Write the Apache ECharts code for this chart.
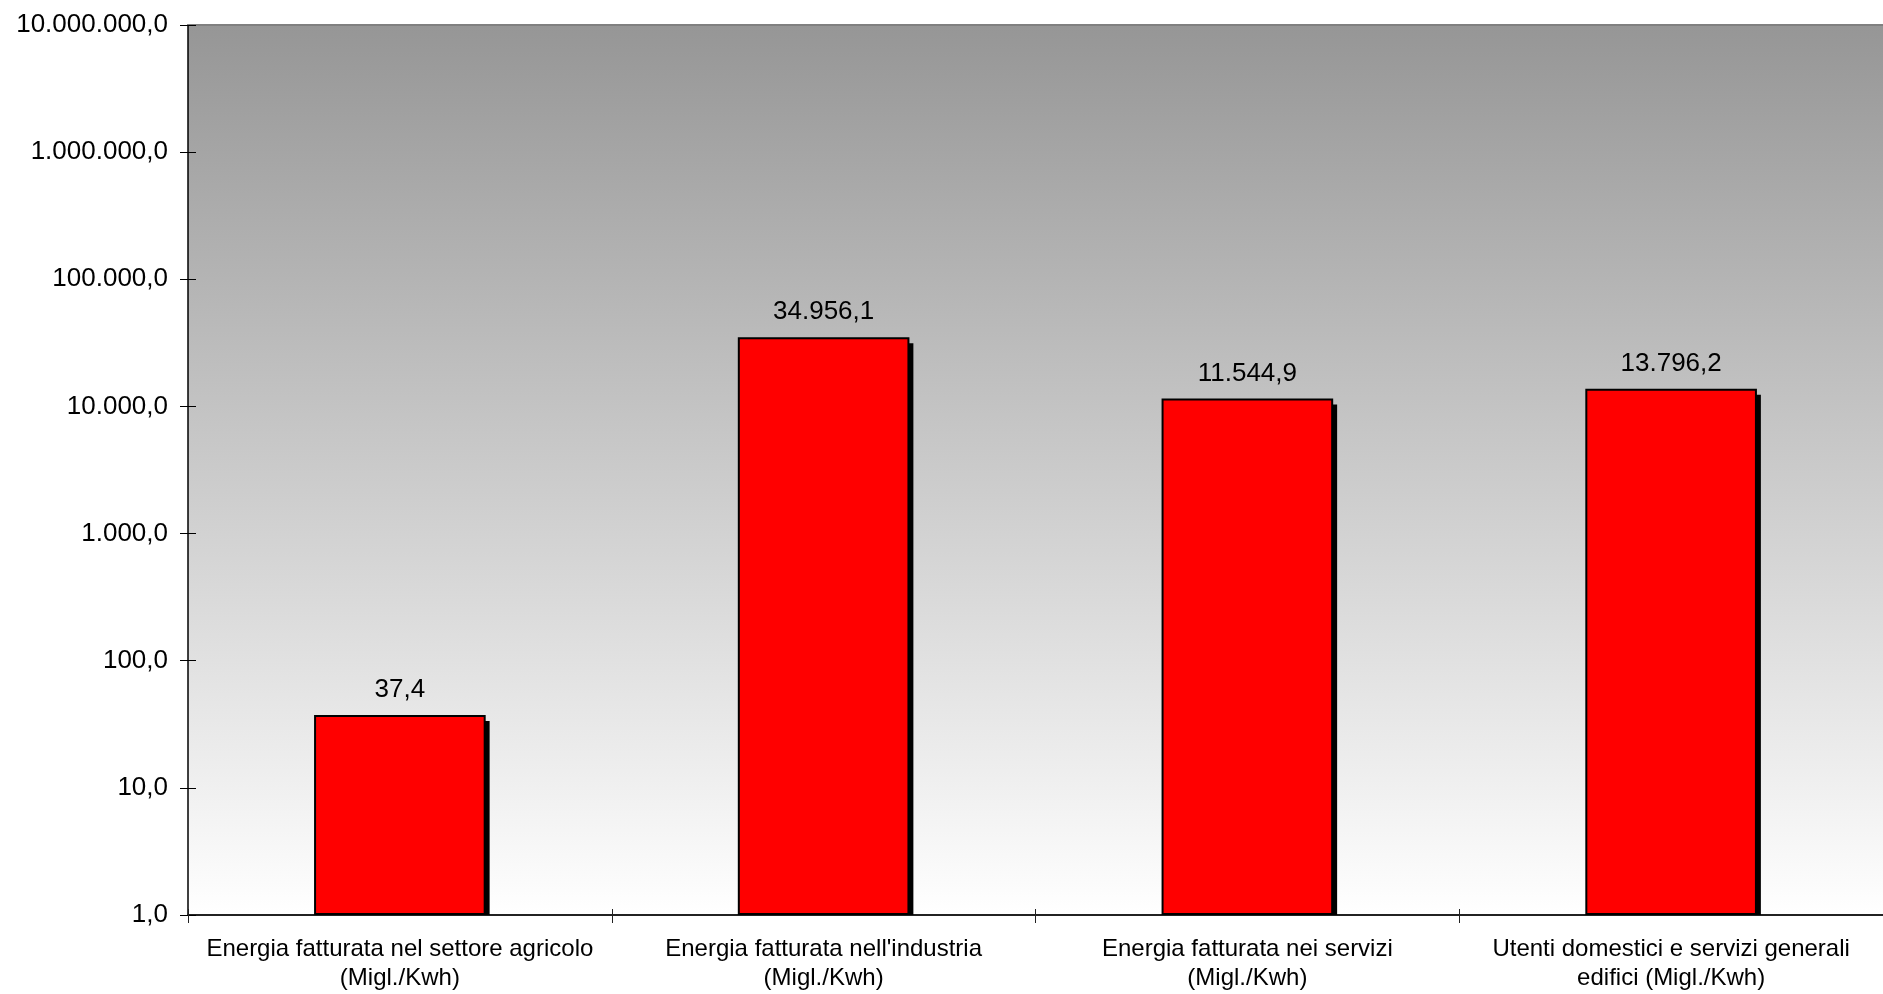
<!DOCTYPE html>
<html>
<head>
<meta charset="utf-8">
<script src="https://cdn.jsdelivr.net/npm/echarts@6/dist/echarts.min.js"></script>
<style>
html,body{margin:0;padding:0;background:#fff;}
#main{width:1883px;height:994px;}
</style>
</head>
<body>
<div id="main"></div>
<script>
const categories = [
  'Energia fatturata nel settore agricolo\n(Migl./Kwh)',
  "Energia fatturata nell'industria\n(Migl./Kwh)",
  'Energia fatturata nei servizi\n(Migl./Kwh)',
  'Utenti domestici e servizi generali\nedifici (Migl./Kwh)'
];
const values = [37.4, 34956.1, 11544.9, 13796.2];
const yMin = 1;
const yMax = 10000000;

function fmtIt(v) {
  const s = Number(v).toFixed(1);
  const parts = s.split('.');
  const intPart = parts[0].replace(/\B(?=(\d{3})+(?!\d))/g, '.');
  return intPart + ',' + parts[1];
}

const FONT = '"Liberation Sans", Arial, sans-serif';
const chart = echarts.init(document.getElementById('main'), null, {renderer: 'canvas'});

const option = {
  backgroundColor: '#ffffff',
  animation: false,
  grid: {
    left: 188, top: 25, right: 0, bottom: 79,
    show: true,
    borderWidth: 0,
    backgroundColor: new echarts.graphic.LinearGradient(0, 0, 0, 1, [
      {offset: 0, color: '#969696'},
      {offset: 1, color: '#ffffff'}
    ])
  },
  xAxis: [
    {
      type: 'category', data: categories, position: 'bottom',
      axisLine: {show: true, lineStyle: {color: '#222', width: 2}},
      axisTick: {show: true, length: 8, inside: false, lineStyle: {color: '#222', width: 1}},
      axisLabel: {color: '#000', fontFamily: FONT, fontSize: 24, lineHeight: 29, margin: 20, interval: 0},
      splitLine: {show: false}
    },
    {
      type: 'category', data: categories, position: 'bottom', gridIndex: 0,
      axisLine: {show: false},
      axisTick: {show: true, length: 6, inside: true, lineStyle: {color: '#222', width: 1}},
      axisLabel: {show: false},
      splitLine: {show: false}
    },
    {
      type: 'category', data: categories, position: 'top', gridIndex: 0,
      axisLine: {show: true, lineStyle: {color: '#808080', width: 2}},
      axisTick: {show: false},
      axisLabel: {show: false},
      splitLine: {show: false}
    }
  ],
  yAxis: [
    {
      type: 'log', logBase: 10, min: yMin, max: yMax, position: 'left',
      axisLine: {show: true, lineStyle: {color: '#000', width: 1.5}},
      axisTick: {show: true, length: 8, inside: false, lineStyle: {color: '#000', width: 1}},
      axisLabel: {color: '#000', fontFamily: FONT, fontSize: 26, margin: 20, formatter: v => fmtIt(v)},
      splitLine: {show: false},
      minorTick: {show: false}
    },
    {
      type: 'log', logBase: 10, min: yMin, max: yMax, position: 'left',
      axisLine: {show: false},
      axisTick: {show: true, length: 8, inside: true, lineStyle: {color: '#000', width: 1}},
      axisLabel: {show: false},
      splitLine: {show: false}
    }
  ],
  series: [
    {
      type: 'custom',
      xAxisIndex: 0, yAxisIndex: 0,
      z: 1,
      data: values.map((v, i) => [i, v]),
      encode: {x: 0, y: 1},
      renderItem: function (params, api) {
        const idx = api.value(0);
        const v = api.value(1);
        const top = api.coord([idx, v]);
        const bottom = api.coord([idx, yMin]);
        const bw = api.size([1, 1])[0] * 0.4;
        const dx = 5, dy = 6;
        return {
          type: 'rect',
          shape: {x: top[0] - bw / 2 + dx, y: top[1] + dy, width: bw, height: bottom[1] - top[1] - dy},
          style: {fill: '#000000'}
        };
      }
    },
    {
      type: 'bar',
      xAxisIndex: 0, yAxisIndex: 0,
      z: 2,
      data: values,
      barWidth: '40.5%',
      itemStyle: {color: '#ff0000', borderColor: '#000000', borderWidth: 2},
      label: {
        show: true, position: 'top', distance: 12,
        color: '#000', fontFamily: FONT, fontSize: 26,
        formatter: p => fmtIt(p.value)
      }
    }
  ]
};
chart.setOption(option);
</script>
</body>
</html>
